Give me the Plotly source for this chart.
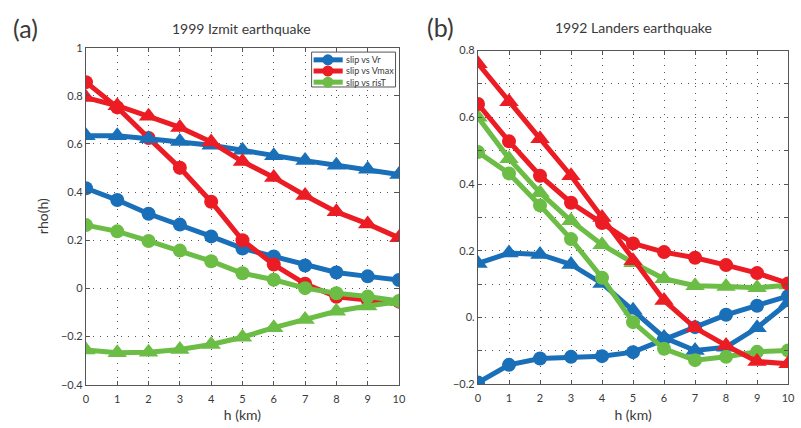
import plotly.graph_objects as go

h = list(range(11))

# (a) 1999 Izmit earthquake
a_vr_circ   = [0.416, 0.367, 0.31, 0.265, 0.216, 0.166, 0.133, 0.095, 0.066, 0.05, 0.035]
a_vr_tri    = [0.634, 0.634, 0.622, 0.61, 0.595, 0.574, 0.551, 0.531, 0.512, 0.495, 0.473]
a_vmax_circ = [0.857, 0.752, 0.625, 0.501, 0.36, 0.2, 0.099, 0.019, -0.035, -0.048, -0.055]
a_vmax_tri  = [0.793, 0.759, 0.715, 0.669, 0.608, 0.527, 0.461, 0.386, 0.318, 0.268, 0.21]
a_rist_circ = [0.263, 0.237, 0.197, 0.157, 0.113, 0.063, 0.036, 0.001, -0.02, -0.034, -0.052]
a_rist_tri  = [-0.256, -0.267, -0.265, -0.254, -0.233, -0.203, -0.163, -0.129, -0.095, -0.073, -0.055]

# (b) 1992 Landers earthquake
b_vr_circ   = [-0.195, -0.142, -0.123, -0.118, -0.116, -0.104, -0.065, -0.029, 0.008, 0.035, 0.064]
b_vr_tri    = [0.162, 0.193, 0.189, 0.159, 0.102, 0.022, -0.06, -0.099, -0.089, -0.031, 0.044]
b_vmax_circ = [0.64, 0.528, 0.425, 0.344, 0.283, 0.222, 0.196, 0.179, 0.157, 0.133, 0.102]
b_vmax_tri  = [0.761, 0.647, 0.536, 0.425, 0.3, 0.17, 0.051, -0.031, -0.084, -0.132, -0.139]
b_rist_circ = [0.496, 0.432, 0.336, 0.235, 0.119, -0.014, -0.094, -0.128, -0.118, -0.103, -0.099]
b_rist_tri  = [0.6, 0.476, 0.374, 0.29, 0.218, 0.164, 0.116, 0.095, 0.093, 0.089, 0.097]

a_yticks = [1, 0.8, 0.6, 0.4, 0.2, 0, -0.2, -0.4]
a_ytext = ["1", "0.8", "0.6", "0.4", "0.2", "0", "\u22120.2", "\u22120.4"]
b_yticks = [-0.2, -0.1, 0.0, 0.1, 0.2, 0.3, 0.4, 0.5, 0.6, 0.7, 0.8]
b_ytext = ["\u22120.2", "", "0.", "", "0.2", "", "0.4", "", "0.6", "", "0.8"]

legend_names = ["slip vs Vr", "slip vs Vmax", "slip vs risT"]

BLUE = "#1a6fb9"
RED = "#ec1c24"
GREEN = "#6cbd45"
legend_colors = [BLUE, RED, GREEN]
FONT = "Lato"
TXT = "#3a3a3a"

fig = go.Figure()

def add(x, y, color, symbol, xa, ya):
    fig.add_trace(go.Scatter(
        x=x, y=y, mode="lines+markers", xaxis=xa, yaxis=ya,
        line=dict(color=color, width=5),
        marker=dict(symbol=symbol, size=14 if symbol == "circle" else 17, color=color),
        showlegend=False))

add(h, a_vr_circ, BLUE, "circle", "x", "y")
add(h, a_vmax_circ, RED, "circle", "x", "y")
add(h, a_rist_circ, GREEN, "circle", "x", "y")
add(h, a_vr_tri, BLUE, "triangle-up", "x", "y")
add(h, a_vmax_tri, RED, "triangle-up", "x", "y")
add(h, a_rist_tri, GREEN, "triangle-up", "x", "y")

add(h, b_vr_circ, BLUE, "circle", "x2", "y2")
add(h, b_vr_tri, BLUE, "triangle-up", "x2", "y2")
add(h, b_rist_tri, GREEN, "triangle-up", "x2", "y2")
add(h, b_rist_circ, GREEN, "circle", "x2", "y2")
add(h, b_vmax_circ, RED, "circle", "x2", "y2")
add(h, b_vmax_tri, RED, "triangle-up", "x2", "y2")

axcommon = dict(
    showline=True, linecolor="#555555", linewidth=1.2, mirror="ticks",
    ticks="inside", ticklen=4, tickcolor="#555555",
    showgrid=True, gridcolor="#555555", griddash="1px,6px", gridwidth=1,
    zeroline=False, tickfont=dict(family=FONT, size=11, color=TXT),
)

W, H = 801, 428
fig.update_layout(
    width=W, height=H, margin=dict(l=0, r=0, t=0, b=0),
    paper_bgcolor="white", plot_bgcolor="white",
    font=dict(family=FONT, color=TXT),
    showlegend=False,
    xaxis=dict(domain=[84 / W, 401 / W], range=[0, 10], tickvals=h, ticklabelstandoff=4,
               title=dict(text="h (km)", font=dict(size=14), standoff=6), **axcommon),
    yaxis=dict(domain=[(H - 389.5) / H, (H - 42) / H], range=[-0.4, 1],
               tickvals=a_yticks, ticktext=a_ytext,
               title=dict(text="rho(h)", font=dict(size=14), standoff=8), **axcommon),
    xaxis2=dict(domain=[481 / W, 795 / W], range=[0, 10], tickvals=h, anchor="y2",
                ticklabelstandoff=4,
                title=dict(text="h (km)", font=dict(size=14), standoff=6), **axcommon),
    yaxis2=dict(domain=[(H - 389) / H, (H - 45) / H], range=[-0.2, 0.8], anchor="x2",
                tickvals=b_yticks, ticktext=b_ytext, **axcommon),
)

# legend box (drawn manually to match the compact MATLAB legend)
lx0, lx1, ly0, ly1 = 312.5, 397.5, 46.5, 82.5
fig.add_shape(type="rect", xref="paper", yref="paper",
              x0=lx0 / W, x1=lx1 / W, y0=(H - ly1) / H, y1=(H - ly0) / H,
              line=dict(color="#555555", width=1), fillcolor="white", layer="above")
for i, (name, col) in enumerate(zip(legend_names, legend_colors)):
    yc = (H - (54.5 + 11.5 * i)) / H
    fig.add_shape(type="line", xref="paper", yref="paper",
                  x0=314.5 / W, x1=344 / W, y0=yc, y1=yc,
                  line=dict(color=col, width=5), layer="above")
    fig.add_shape(type="circle", xref="paper", yref="paper",
                  xsizemode="pixel", ysizemode="pixel",
                  xanchor=329 / W, yanchor=yc, x0=-5.5, x1=5.5, y0=-5.5, y1=5.5,
                  line=dict(color=col, width=0), fillcolor=col, layer="above")
    fig.add_annotation(text=name, x=345 / W, y=yc, xref="paper", yref="paper",
                       xanchor="left", yanchor="middle", showarrow=False,
                       font=dict(family=FONT, size=9, color=TXT))

fig.add_annotation(text="(a)", x=8 / W, y=(H - 22) / H, xref="paper", yref="paper",
                   xanchor="left", yanchor="middle", showarrow=False,
                   font=dict(family=FONT, size=25, color=TXT))
fig.add_annotation(text="(b)", x=427 / W, y=(H - 21) / H, xref="paper", yref="paper",
                   xanchor="left", yanchor="middle", showarrow=False,
                   font=dict(family=FONT, size=25, color=TXT))
fig.add_annotation(text="1999 Izmit earthquake", x=242 / W, y=(H - 22) / H, xref="paper", yref="paper",
                   xanchor="center", yanchor="middle", showarrow=False,
                   font=dict(family=FONT, size=14, color=TXT))
fig.add_annotation(text="1992 Landers earthquake", x=638 / W, y=(H - 21) / H, xref="paper", yref="paper",
                   xanchor="center", yanchor="middle", showarrow=False,
                   font=dict(family=FONT, size=14, color=TXT))

fig.write_html("out.html")
